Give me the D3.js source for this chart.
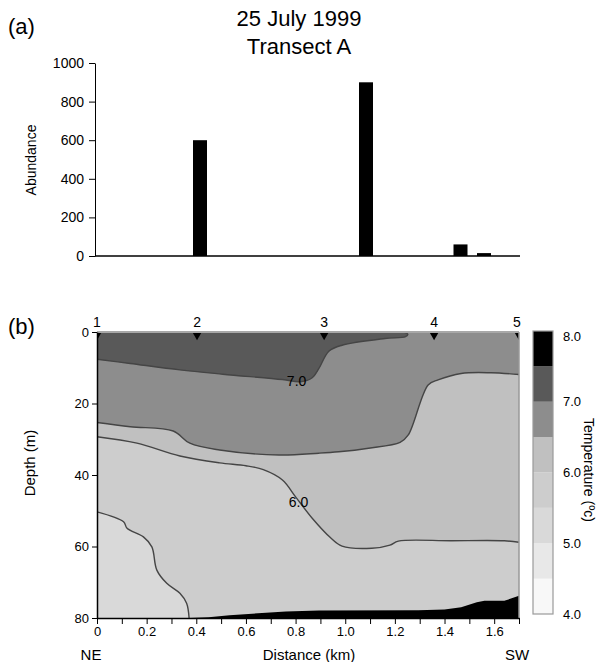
<!DOCTYPE html>
<html>
<head>
<meta charset="utf-8">
<script src="https://d3js.org/d3.v7.min.js"></script>
<style>
body { margin: 0; background: #fff; }
text { font-family: "Liberation Sans", Arial, sans-serif; fill: #000; }
</style>
</head>
<body>
<svg width="599" height="662"></svg>
<script>
// (a) abundance at sample positions along the transect (km)
var barKm = [0.42, 1.084, 1.462, 1.556];
var abundance = [600, 900, 60, 15];
var abundanceTicks = [0, 200, 400, 600, 800, 1000];

// (b) stations and temperature section
var stationNames = ["1", "2", "3", "4", "5"];
var stationKm = [0, 0.403, 0.915, 1.358, 1.7];
var depthTicks = [0, 20, 40, 60, 80];
var distMinor = [0, 0.1, 0.2, 0.3, 0.4, 0.5, 0.6, 0.7, 0.8, 0.9, 1.0, 1.1, 1.2, 1.3, 1.4, 1.5, 1.6, 1.7];
var distTicks = [0, 0.2, 0.4, 0.6, 0.8, 1.0, 1.2, 1.4, 1.6];
var distLabels = ["0", "0.2", "0.4", "0.6", "0.8", "1.0", "1.2", "1.4", "1.6"];

var bandLow = [4, 4.5, 5, 5.5, 6, 6.5, 7, 7.5];
var bandColors = ["#f8f8f8", "#e8e8e8", "#d9d9d9", "#cdcdcd", "#c0c0c0", "#8d8d8d", "#595959", "#000000"];
var tempTicks = [4, 5, 6, 7, 8];

// isotherms as [km, depth m]
var iso70 = [[0, 7.6], [0.134, 8.8], [0.334, 10.6], [0.507, 11.8], [0.747, 13.3], [0.82, 13.9],
  [0.867, 12.8], [0.894, 10.2], [0.934, 5.4], [0.987, 3.7], [1.16, 1.8], [1.243, 1.3], [1.252, 0.6], [1.235, 0]];
var iso65 = [[0, 25.3], [0.134, 26.5], [0.307, 27.7], [0.374, 31.1], [0.494, 33], [0.734, 34.4],
  [0.894, 33.9], [0.974, 33.5], [1.094, 32.5], [1.221, 30.9], [1.254, 28.8], [1.334, 14.8],
  [1.374, 13.4], [1.467, 11.6], [1.587, 11.4], [1.7, 11.9]];
var iso60 = [[0, 29.3], [0.161, 31.1], [0.334, 34.7], [0.494, 36.6], [0.6, 37.4], [0.67, 38.5],
  [0.747, 41.4], [0.8, 46.1], [0.867, 52.1], [0.94, 57.5], [0.987, 59.9], [1.107, 60.5],
  [1.18, 59.6], [1.214, 58.5], [1.427, 58.4], [1.641, 58.4], [1.7, 58.8]];
var iso55 = [[0, 50.3], [0.107, 53.1], [0.121, 54.9], [0.187, 57.3], [0.221, 60.1], [0.241, 66.6],
  [0.281, 70.3], [0.334, 73.1], [0.361, 75.9], [0.371, 80]];
var bottomEdge = [[0.371, 80], [0.45, 79.8], [0.534, 79.2], [0.761, 78.2], [0.894, 77.9], [1.294, 77.8],
  [1.4, 77.6], [1.467, 77], [1.53, 75.6], [1.561, 75.2], [1.641, 75.2], [1.7, 73.8]];
var isoLabels = ["7.0", "6.0"];
var isoLabelKm = [0.804, 0.812];
var isoLabelDepth = [13.8, 47.6];

var svg = d3.select("svg");

// ---------- panel (a) ----------
var xa = d3.scaleLinear().domain([0, 1.7]).range([95, 520]);
var ya = d3.scaleLinear().domain([0, 1000]).range([256, 63]);

svg.append("text").attr("x", 8).attr("y", 34).style("font-size", "22px").text("(a)");
svg.append("text").attr("x", 299).attr("y", 26).attr("text-anchor", "middle").style("font-size", "22px").text("25 July 1999");
svg.append("text").attr("x", 299).attr("y", 54).attr("text-anchor", "middle").style("font-size", "22px").text("Transect A");

svg.selectAll("rect.bar").data(abundance).enter().append("rect")
  .attr("class", "bar")
  .attr("x", function(d, i) { return xa(barKm[i]) - 7; })
  .attr("width", 14)
  .attr("y", function(d) { return ya(d); })
  .attr("height", function(d) { return ya(0) - ya(d); })
  .attr("fill", "#000");

var axA = svg.append("g").attr("transform", "translate(95,0)")
  .call(d3.axisLeft(ya).tickValues(abundanceTicks).tickFormat(d3.format("d"))
    .tickSize(6).tickSizeOuter(0).tickPadding(5));
axA.selectAll("text").style("font-size", "14px").style("font-family", "Liberation Sans, Arial, sans-serif");

svg.append("line").attr("x1", 95).attr("x2", 520).attr("y1", ya(0)).attr("y2", ya(0))
  .attr("stroke", "#000").attr("stroke-width", 1.5);

svg.append("text").attr("transform", "translate(36,160) rotate(-90)")
  .attr("text-anchor", "middle").style("font-size", "14px").text("Abundance");

// ---------- panel (b) ----------
var x = d3.scaleLinear().domain([0, 1.7]).range([97, 519]);
var y = d3.scaleLinear().domain([0, 80]).range([332, 618]);
var bandColor = d3.scaleThreshold().domain(bandLow.slice(1)).range(bandColors);

svg.append("text").attr("x", 8).attr("y", 334).style("font-size", "22px").text("(b)");

svg.append("clipPath").attr("id", "plotclip").append("rect")
  .attr("x", x(0)).attr("y", y(0)).attr("width", x(1.7) - x(0)).attr("height", y(80) - y(0));

var plot = svg.append("g").attr("clip-path", "url(#plotclip)");

var iso = d3.line().x(function(d) { return x(d[0]); }).y(function(d) { return y(d[1]); })
  .curve(d3.curveCatmullRom.alpha(0.5));
var lin = d3.line().x(function(d) { return x(d[0]); }).y(function(d) { return y(d[1]); });

function region(gen, pts, corners) {
  return gen(pts) + corners.map(function(c) { return "L" + x(c[0]) + "," + y(c[1]); }).join("") + "Z";
}

plot.append("rect").attr("x", x(0)).attr("y", y(0)).attr("width", x(1.7) - x(0)).attr("height", y(80) - y(0))
  .attr("fill", bandColor(5.75));
plot.append("path").attr("d", region(iso, iso60, [[1.7, 0], [0, 0]])).attr("fill", bandColor(6.25));
plot.append("path").attr("d", region(iso, iso65, [[1.7, 0], [0, 0]])).attr("fill", bandColor(6.75));
plot.append("path").attr("d", region(iso, iso70, [[0, 0]])).attr("fill", bandColor(7.25));
plot.append("path").attr("d", region(iso, iso55, [[0, 80]])).attr("fill", bandColor(5.25));
plot.append("path").attr("d", region(lin, bottomEdge, [[1.7, 80]])).attr("fill", bandColor(7.75));

[iso70, iso65, iso60, iso55].forEach(function(l) {
  plot.append("path").attr("d", iso(l)).attr("fill", "none").attr("stroke", "#454545").attr("stroke-width", 1.4);
});

plot.selectAll("text.iso").data(isoLabels).enter().append("text")
  .attr("class", "iso")
  .attr("x", function(d, i) { return x(isoLabelKm[i]); })
  .attr("y", function(d, i) { return y(isoLabelDepth[i]); })
  .attr("dy", "0.35em").attr("text-anchor", "middle").style("font-size", "14px").text(function(d) { return d; });

// stations
plot.selectAll("path.st").data(stationKm).enter().append("path")
  .attr("class", "st")
  .attr("d", d3.symbol(d3.symbolTriangle, 30))
  .attr("transform", function(d) { return "translate(" + x(d) + "," + (y(0) + 3.4) + ") rotate(180)"; })
  .attr("fill", "#000");
svg.selectAll("text.stn").data(stationNames).enter().append("text")
  .attr("class", "stn")
  .attr("x", function(d, i) { return Math.min(x(stationKm[i]), 517); })
  .attr("y", 327).attr("text-anchor", "middle").style("font-size", "14px").text(function(d) { return d; });

// frame
svg.append("line").attr("x1", x(0)).attr("x2", x(1.7)).attr("y1", y(0)).attr("y2", y(0))
  .attr("stroke", "#a8a8a8").attr("stroke-width", 2);
svg.append("line").attr("x1", x(1.7)).attr("x2", x(1.7)).attr("y1", y(0)).attr("y2", y(80))
  .attr("stroke", "#999").attr("stroke-width", 1.5);

var axY = svg.append("g").attr("transform", "translate(" + x(0) + ",0)")
  .call(d3.axisLeft(y).tickValues(depthTicks).tickSize(5).tickSizeOuter(0).tickPadding(3));
axY.select(".domain").attr("stroke-width", 1.5);
axY.selectAll("text").style("font-size", "13px").style("font-family", "Liberation Sans, Arial, sans-serif");

svg.append("g").attr("transform", "translate(0," + y(80) + ")")
  .call(d3.axisBottom(x).tickValues(distMinor).tickSize(6).tickSizeOuter(0).tickFormat(""))
  .select(".domain").attr("stroke-width", 1.5);
var axX = svg.append("g").attr("transform", "translate(0," + y(80) + ")")
  .call(d3.axisBottom(x).tickValues(distTicks).tickSize(0).tickPadding(9)
    .tickFormat(function(d, i) { return distLabels[i]; }));
axX.select(".domain").remove();
axX.selectAll("text").style("font-size", "13px").style("font-family", "Liberation Sans, Arial, sans-serif");

svg.append("text").attr("transform", "translate(35,463) rotate(-90)")
  .attr("text-anchor", "middle").style("font-size", "15px").text("Depth (m)");
svg.append("text").attr("x", 309).attr("y", 660).attr("text-anchor", "middle").style("font-size", "15px").text("Distance (km)");
svg.append("text").attr("x", 91).attr("y", 660).attr("text-anchor", "middle").style("font-size", "15px").text("NE");
svg.append("text").attr("x", 517).attr("y", 660).attr("text-anchor", "middle").style("font-size", "15px").text("SW");

// colour bar
var yt = d3.scaleLinear().domain([4, 8]).range([614, 331]);
svg.selectAll("rect.band").data(bandLow).enter().append("rect")
  .attr("class", "band")
  .attr("x", 533).attr("width", 20)
  .attr("y", function(d) { return yt(d + 0.5); })
  .attr("height", function(d) { return yt(d) - yt(d + 0.5); })
  .attr("fill", function(d, i) { return bandColors[i]; });
svg.append("rect").attr("x", 533).attr("y", yt(8)).attr("width", 20).attr("height", yt(4) - yt(8))
  .attr("fill", "none").attr("stroke", "#9a9a9a").attr("stroke-width", 1.2);
svg.selectAll("text.tt").data(tempTicks).enter().append("text")
  .attr("class", "tt")
  .attr("x", 563).attr("y", function(d) { return Math.max(yt(d), 336); })
  .attr("dy", "0.35em").style("font-size", "13px").text(function(d) { return d3.format(".1f")(d); });
svg.append("text").attr("transform", "translate(584,470) rotate(90)")
  .attr("text-anchor", "middle").style("font-size", "14px").text("Temperature (\u00bac)");
</script>
</body>
</html>
